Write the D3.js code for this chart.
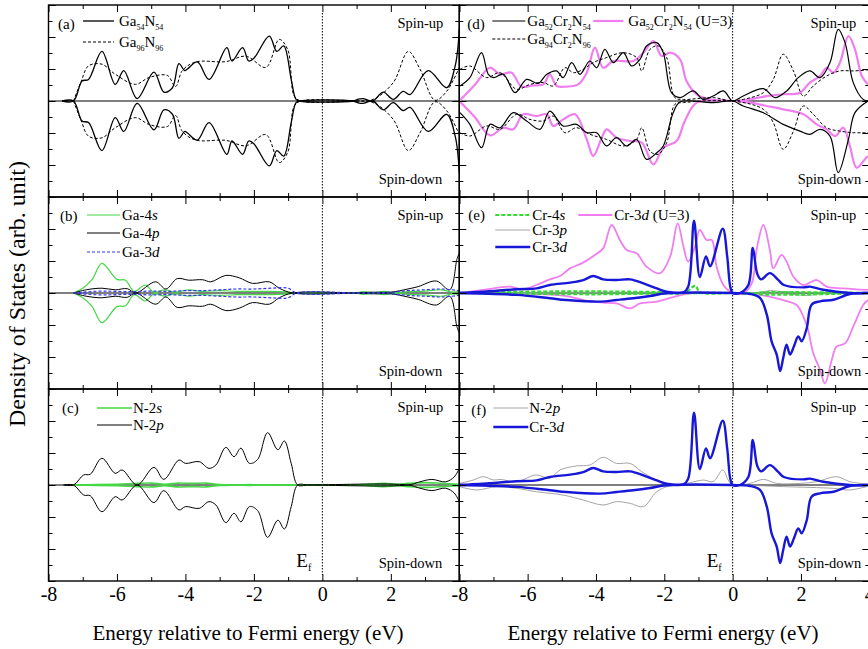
<!DOCTYPE html>
<html>
<head>
<meta charset="utf-8">
<script src="https://cdn.jsdelivr.net/npm/d3@7"></script>
<style>
  body { margin: 0; background: #fff; }
  text { font-family: "Liberation Serif", "DejaVu Serif", serif; }
</style>
</head>
<body>
<div id="chart"></div>
<script>
// DOS curves: [energy (eV), DOS (arb. unit)]
// spin-down arrays hold magnitudes (drawn below zero)

// (a) total DOS of pure GaN
const ga54n54 = [[-7.6,0],[-7.27,0],[-7.02,1.25],[-6.83,1.35],[-6.44,3.1],[-6.05,1.04],[-5.8,1.9],[-5.41,0.15],[-4.92,1.8],[-4.63,0.56],[-4.38,0.83],[-4.19,2.33],[-4.02,1.9],[-3.94,2.0],[-3.65,2.44],[-3.31,1.35],[-2.79,3.33],[-2.64,2.5],[-2.33,3.33],[-2.15,2.5],[-1.99,2.7],[-1.55,4.06],[-1.33,3.1],[-1.13,3.44],[-0.91,1.35],[-0.77,0.1],[-0.67,0],[0.9,0],[1.05,0.12],[1.19,0.15],[1.33,0.05],[1.48,0],[1.78,0.55],[2.07,0.1],[2.36,0.6],[2.56,0.4],[3.09,1.9],[3.63,0.83],[3.88,2.2],[4.0,4.5]];
const ga96n96 = [[-7.27,0],[-7.05,1.2],[-6.83,2.2],[-6.44,2.3],[-6.05,1.67],[-5.46,1.04],[-5.07,1.46],[-4.53,1.6],[-4.29,0.9],[-4.09,1.9],[-3.7,2.44],[-2.82,2.46],[-2.23,2.8],[-1.65,2.1],[-1.26,3.85],[-1.01,3.2],[-0.82,0.3],[-0.62,0],[0.9,0],[1.48,0.1],[2.07,1.15],[2.51,3.1],[2.85,2.0],[3.29,0.05],[3.63,0.6],[4.0,2.1]];

// (b) Ga partial DOS
const ga4s = [[-7.27,0],[-7.0,0.3],[-6.73,0.83],[-6.44,1.85],[-6.0,0.85],[-5.75,0.8],[-5.5,0.1],[-5.17,0.5],[-4.92,0.05],[-4.6,0.2],[-4.3,0.05],[-3.9,0.2],[-3.5,0.1],[-3.0,0.15],[-2.5,0.1],[-2.0,0.1],[-1.5,0.1],[-1.0,0.05],[-0.7,0],[0.9,0],[1.2,0.08],[1.5,0.02],[1.8,0.1],[2.1,0.02],[2.5,0.08],[3.0,0.12],[3.5,0.2],[3.8,0.05],[4.0,0.1]];
const ga4p = [[-7.27,0],[-6.9,0.2],[-6.44,0.3],[-6.05,0.2],[-5.7,0.27],[-5.45,0],[-4.87,0.7],[-4.57,0.25],[-4.24,0.9],[-3.9,0.8],[-3.5,0.83],[-3.26,0.7],[-2.82,1.1],[-2.43,0.95],[-2.04,0.6],[-1.55,0.7],[-1.26,0.3],[-0.87,0],[0.9,0],[1.5,0.05],[2.0,0.05],[2.5,0.25],[2.8,0.4],[3.33,0.75],[3.72,0.2],[3.93,2.1],[4.0,2.5]];
const ga3d = [[-7.27,0],[-6.5,0.12],[-6.0,0.1],[-5.5,0.08],[-5.0,0.12],[-4.5,0.1],[-4.0,0.15],[-3.5,0.15],[-3.0,0.2],[-2.5,0.25],[-2.0,0.25],[-1.5,0.3],[-1.0,0.3],[-0.75,0],[1.0,0],[2.0,0.05],[2.5,0.15],[3.0,0.2],[3.5,0.25],[4.0,0.15]];

// (c) N partial DOS
const n2s = [[-7.3,0],[-6.0,0.05],[-5.4,0.1],[-5.0,0.12],[-4.6,0.05],[-4.2,0.12],[-3.8,0.1],[-3.4,0.12],[-3.0,0.03],[-2.0,0.02],[-0.7,0],[1.0,0],[1.8,0.1],[2.2,0.05],[2.5,0.1],[3.0,0.15],[3.5,0.1],[4.0,0.05]];
const n2p = [[-7.56,0],[-7.27,0],[-6.97,0.63],[-6.78,0.67],[-6.44,1.67],[-6.05,0.73],[-5.85,0.94],[-5.41,0],[-4.92,1.1],[-4.63,0.35],[-4.19,1.56],[-4.0,1.35],[-3.6,1.46],[-3.31,1.04],[-3.11,1.25],[-2.82,2.35],[-2.58,1.77],[-2.38,2.3],[-2.13,1.35],[-1.89,1.6],[-1.6,3.27],[-1.3,2.2],[-1.11,2.75],[-0.91,1.35],[-0.72,0],[-0.4,0],[2.5,0],[2.85,0.2],[3.2,0.35],[3.6,0.2],[3.85,0.5],[4.0,1.04]];

// (d) total DOS of Cr-doped GaN
const cr54Up = [[-7.98,0.94],[-7.69,1.46],[-7.35,3.02],[-7.15,1.67],[-7.0,1.46],[-6.71,1.67],[-6.37,0.52],[-6.03,1.35],[-5.69,1.1],[-5.44,1.67],[-5.15,1.88],[-4.96,1.46],[-4.71,2.4],[-4.47,1.67],[-4.18,2.5],[-3.98,2.08],[-3.74,3.23],[-3.49,2.4],[-3.2,3.02],[-2.96,2.19],[-2.71,2.6],[-2.52,3.44],[-2.22,3.65],[-2.03,3.02],[-1.79,0.52],[-1.54,0.21],[-1.15,0.63],[-0.86,0.1],[-0.57,0.31],[-0.27,0.63],[0,0],[0.31,0.31],[0.9,0.77],[1.24,0.21],[1.58,0.63],[1.92,1.46],[2.26,1.88],[2.56,1.46],[2.85,2.4],[3.09,4.48],[3.29,3.65],[3.53,1.15],[3.82,0.1],[3.96,0]];
const cr54Dn = [[-7.98,0.73],[-7.69,1.46],[-7.35,2.92],[-7.1,1.46],[-6.81,1.67],[-6.42,0.73],[-6.03,1.25],[-5.64,1.77],[-5.35,0.63],[-4.96,1.56],[-4.57,1.46],[-4.27,1.98],[-3.98,1.98],[-3.69,2.81],[-3.4,2.29],[-3.1,2.81],[-2.81,2.4],[-2.52,3.65],[-2.22,3.23],[-2.03,2.81],[-1.74,0.73],[-1.54,0.06],[-0.57,0.1],[0,0],[0.31,0.31],[0.9,0.73],[1.48,1.46],[1.97,1.88],[2.26,2.08],[2.56,1.77],[2.85,2.19],[3.09,4.48],[3.39,2.4],[3.58,0.73],[3.96,0]];
const cr96Up = [[-7.98,1.98],[-7.69,2.19],[-7.2,1.46],[-6.81,1.77],[-6.32,0.73],[-5.93,1.04],[-5.54,1.15],[-5.25,0.94],[-4.91,2.08],[-4.66,1.77],[-4.37,1.98],[-4.08,2.4],[-3.69,2.71],[-3.2,3.02],[-2.81,2.71],[-2.66,1.88],[-2.42,3.23],[-2.18,3.44],[-1.93,2.71],[-1.69,0.21],[-1.44,0.1],[-0.57,0.21],[0,0],[0.31,0.1],[0.9,0.52],[1.19,1.35],[1.48,2.92],[1.78,1.88],[2.07,0.31],[2.36,0.94],[2.75,1.56],[3.14,1.88],[3.53,1.88],[3.96,1.94]];
const cr96Dn = [[-7.98,1.98],[-7.69,2.19],[-7.2,1.56],[-6.81,1.77],[-6.32,0.83],[-5.93,1.15],[-5.54,1.25],[-5.25,0.94],[-4.91,1.98],[-4.57,1.67],[-4.18,2.08],[-3.69,2.4],[-3.2,2.81],[-2.81,2.4],[-2.66,1.67],[-2.42,3.13],[-2.18,3.33],[-1.93,2.6],[-1.69,0.21],[-1.44,0.1],[0,0],[0.9,0.52],[1.19,1.35],[1.48,3.02],[1.78,1.88],[2.07,0.31],[2.36,0.83],[2.75,1.67],[3.14,1.88],[3.53,1.98],[3.96,1.98]];
const crU3Up = [[-8.0,0],[-7.55,1.0],[-7.1,2.08],[-6.81,1.67],[-6.47,1.77],[-6.18,0.9],[-5.83,0.98],[-5.54,1.04],[-5.35,1.67],[-5.15,0.94],[-4.86,0.9],[-4.52,1.04],[-4.27,1.77],[-4.03,3.33],[-3.79,2.08],[-3.49,2.5],[-2.91,2.5],[-2.61,3.02],[-2.32,3.75],[-2.08,2.81],[-1.83,3.02],[-1.54,2.6],[-1.35,1.25],[-1.05,0.42],[-0.66,0.1],[0,0],[0.51,0.1],[1.0,0.31],[1.48,0.42],[1.97,0.52],[2.26,1.15],[2.56,1.56],[2.75,2.08],[2.95,1.77],[3.14,2.4],[3.39,4.06],[3.58,3.23],[3.78,1.56],[3.96,1.04]];
const crU3Dn = [[-8.0,0],[-7.55,1.0],[-7.1,2.15],[-6.71,1.67],[-6.42,1.77],[-6.13,0.83],[-5.74,0.94],[-5.44,0.83],[-5.25,1.56],[-4.96,1.15],[-4.61,0.83],[-4.27,2.4],[-4.08,3.44],[-3.83,2.29],[-3.69,1.77],[-3.4,2.29],[-3.0,2.5],[-2.66,2.6],[-2.32,3.96],[-2.03,2.92],[-1.64,2.5],[-1.4,1.25],[-1.05,0.1],[0,0],[0.51,0.1],[1.0,0.31],[1.48,0.52],[2.07,0.83],[2.46,1.46],[2.75,1.77],[3.0,2.19],[3.24,1.67],[3.43,2.81],[3.63,4.17],[3.87,3.65],[3.96,3.44]];

// (e) Cr partial DOS
const cr4sUp = [[-8,0],[-7,0.05],[-6,0.08],[-5,0.1],[-4,0.1],[-3,0.08],[-2,0.05],[-1.4,0.02],[-1.1,0.45],[-0.95,0.05],[0,0],[0.6,0],[1.0,0.05],[1.5,0.06],[2.0,0.05],[3.0,0.03],[4,0]];
const cr4sDn = [[-8,0],[-6,0.05],[-4,0.08],[-2,0.03],[0,0],[1,0.1],[2,0.1],[3,0.05],[4,0]];
const cr3pUp = [[-8,0],[-4,0.05],[0,0],[0.8,0.05],[1.1,0.15],[1.4,0.1],[2,0.05],[4,0]];
const cr3pDn = [[-8,0],[0,0],[1.5,0.05],[2.2,0.15],[2.6,0.05],[4,0]];
const cr3dUp = [[-8,0],[-7.3,0.08],[-6.32,0.23],[-5.74,0.29],[-5.35,0.5],[-4.76,0.65],[-4.37,0.81],[-4.08,1.06],[-3.79,0.85],[-3.4,0.81],[-3.0,0.85],[-2.61,0.6],[-2.22,0.29],[-1.93,0.08],[-1.44,0.04],[-1.3,0.4],[-1.13,4.52],[-0.96,1.0],[-0.78,2.29],[-0.66,1.67],[-0.29,4.02],[-0.16,2.3],[-0.07,0.4],[0,0],[0.21,0],[0.46,0.5],[0.59,2.82],[0.72,1.2],[0.83,0.85],[1.09,1.24],[1.34,0.8],[1.5,0.5],[2.07,0.35],[2.26,0.4],[2.65,0.2],[3.43,0],[3.96,0]];
const cr3dDn = [[-8,0],[-6.32,0.12],[-5.35,0.33],[-4.86,0.44],[-3.88,0.54],[-3.4,0.44],[-2.91,0.33],[-2.42,0.19],[-1.93,0.02],[0,0],[0.51,0.06],[0.8,0.31],[1.0,1.35],[1.14,3.02],[1.29,3.85],[1.39,4.88],[1.48,4.06],[1.58,3.23],[1.68,3.85],[1.8,3.3],[1.92,2.71],[2.02,3.02],[2.17,2.19],[2.31,0.73],[2.56,0.52],[2.95,0.42],[3.43,0.06],[3.96,0]];
const cr3dU3Up = [[-8,0],[-7.3,0.19],[-6.52,0.4],[-6.13,0.23],[-5.74,0.5],[-5.35,0.85],[-5.05,1.06],[-4.76,1.54],[-4.42,1.85],[-4.03,2.38],[-3.79,2.79],[-3.54,4.25],[-3.3,3.31],[-3.1,2.69],[-2.81,2.48],[-2.52,1.65],[-2.13,1.23],[-1.83,2.27],[-1.61,4.35],[-1.44,2.9],[-1.3,1.96],[-1.1,2.9],[-0.96,3.94],[-0.76,3.31],[-0.61,3.31],[-0.47,1.65],[-0.27,0.5],[0,0],[0.31,0],[0.56,0.6],[0.7,2.69],[0.9,4.25],[1.09,2.69],[1.19,1.54],[1.43,2.38],[1.58,1.96],[1.78,1.02],[2.07,0.5],[2.46,0.81],[2.75,0.4],[3.24,0.29],[3.96,0.19]];
const cr3dU3Dn = [[-8,0],[-4.86,0.19],[-4.37,0.44],[-3.79,0.6],[-3.4,0.65],[-3.0,0.96],[-2.71,0.65],[-2.22,0.54],[-1.64,0.19],[-1.25,0.02],[0,0],[0.51,0.06],[1.0,0.19],[1.48,0.44],[1.87,0.75],[2.07,1.48],[2.21,2.31],[2.36,3.77],[2.56,4.81],[2.7,5.65],[2.9,4.19],[3.04,3.35],[3.29,3.15],[3.53,2.1],[3.82,0.75],[3.96,0.44]];

// (f) N-2p in Cr-doped GaN
const crN2pUp = [[-8,0.1],[-7.59,0.31],[-7.3,0.52],[-7.0,0.31],[-6.81,0.35],[-6.32,0.21],[-5.74,0.63],[-5.35,0.42],[-5.05,0.94],[-4.57,1.19],[-4.18,1.25],[-3.79,1.73],[-3.4,1.35],[-3.0,1.35],[-2.66,0.83],[-2.22,0.31],[-1.83,0],[-1.35,0.1],[-0.86,0.31],[-0.57,0.21],[-0.29,0.94],[-0.13,0.31],[0,0],[0.51,0.1],[0.9,0.35],[1.29,0.1],[1.97,0.1],[2.46,0.21],[3.04,0.52],[3.43,0.21],[3.92,0.06]];
const crN2pDn = [[-8,0.1],[-7.49,0.31],[-6.91,0.1],[-6.32,0.21],[-5.74,0.42],[-4.96,0.63],[-4.37,0.94],[-3.79,1.25],[-3.4,1.04],[-3.0,1.15],[-2.61,1.35],[-2.22,0.42],[-1.83,0.06],[0,0],[1.48,0.1],[2.95,0.21],[3.43,0.31],[3.92,0.1]];

const xMajor = [-8, -6, -4, -2, 0, 2, 4];
const xMinor = [-7, -5, -3, -1, 1, 3];
const yMajor = [-6, -4, -2, 0, 2, 4, 6];
const yMinor = [-5, -3, -1, 1, 3, 5];
const xLabelsLeft = [-8, -6, -4, -2, 0, 2];
const xLabelsRight = [-8, -6, -4, -2, 0, 2, 4];

const width = 868, height = 649;
const colX = [[48.5, 459.3], [459.3, 869.3]];
const rowY = [5, 197, 389, 581];

const GREEN = "#45d845", PINK = "#f07ef0", BLUE = "#1717d8", GRAY = "#9a9a9a";

const panels = [
  { tag: "(a)", col: 0, row: 0, tagX: 9.5, tagY: 24,
    series: [
      { up: ga54n54, dn: ga54n54, color: "#000", w: 1.3 },
      { up: ga96n96, dn: ga96n96, color: "#000", w: 1, dash: "3,2" }],
    legend: [
      { x1: 34.5, x2: 65.5, y: 16, tx: 70.5, label: "Ga_54N_54", color: "#000", w: 1.3 },
      { x1: 34.5, x2: 65.5, y: 37, tx: 70.5, label: "Ga_96N_96", color: "#000", w: 1, dash: "3,2" }] },
  { tag: "(b)", col: 0, row: 1, tagX: 11.5, tagY: 24,
    series: [
      { up: ga4s, dn: ga4s, color: GREEN, w: 1.2 },
      { up: ga4p, dn: ga4p, color: "#000", w: 1 },
      { up: ga3d, dn: ga3d, color: "#3535ee", w: 1.2, dash: "3,2" }],
    legend: [
      { x1: 38.5, x2: 71.5, y: 18, tx: 73.5, label: "Ga-4*s*", color: GREEN, w: 1.2 },
      { x1: 38.5, x2: 71.5, y: 36, tx: 73.5, label: "Ga-4*p*", color: "#000", w: 1 },
      { x1: 38.5, x2: 71.5, y: 55, tx: 73.5, label: "Ga-3*d*", color: "#3535ee", w: 1.2, dash: "3,2" }] },
  { tag: "(c)", col: 0, row: 2, tagX: 13.5, tagY: 24,
    series: [
      { up: n2s, dn: n2s, color: GREEN, w: 1.6 },
      { up: n2p, dn: n2p, color: "#000", w: 1 }],
    legend: [
      { x1: 48.5, x2: 83.5, y: 19, tx: 84.5, label: "N-2*s*", color: GREEN, w: 1.6 },
      { x1: 48.5, x2: 83.5, y: 36, tx: 84.5, label: "N-2*p*", color: "#000", w: 1 }] },
  { tag: "(d)", col: 1, row: 0, tagX: 8, tagY: 24,
    series: [
      { up: crU3Up, dn: crU3Dn, color: PINK, w: 2.2 },
      { up: cr96Up, dn: cr96Dn, color: "#000", w: 1, dash: "3,2" },
      { up: cr54Up, dn: cr54Dn, color: "#000", w: 1.2 }],
    legend: [
      { x1: 33, x2: 66, y: 16, tx: 68, label: "Ga_52Cr_2N_54", color: "#000", w: 1.2 },
      { x1: 134, x2: 164, y: 16, tx: 169, label: "Ga_52Cr_2N_54 (U=3)", color: PINK, w: 2.2 },
      { x1: 33, x2: 66, y: 34, tx: 68, label: "Ga_94Cr_2N_96", color: "#000", w: 1, dash: "3,2" }] },
  { tag: "(e)", col: 1, row: 1, tagX: 9, tagY: 23,
    series: [
      { up: cr3dU3Up, dn: cr3dU3Dn, color: PINK, w: 1.8 },
      { up: cr3pUp, dn: cr3pDn, color: GRAY, w: 0.9 },
      { up: cr4sUp, dn: cr4sDn, color: "#2fdc2f", w: 2.2, dash: "4,2" },
      { up: cr3dUp, dn: cr3dDn, color: BLUE, w: 2.4 }],
    legend: [
      { x1: 36, x2: 71, y: 18, tx: 73, label: "Cr-4*s*", color: "#2fdc2f", w: 2.2, dash: "4,2" },
      { x1: 119, x2: 153, y: 18, tx: 155, label: "Cr-3*d* (U=3)", color: PINK, w: 1.8 },
      { x1: 36, x2: 71, y: 33, tx: 73, label: "Cr-3*p*", color: GRAY, w: 0.9 },
      { x1: 36, x2: 71, y: 50, tx: 73, label: "Cr-3*d*", color: BLUE, w: 2.4 }] },
  { tag: "(f)", col: 1, row: 2, tagX: 12, tagY: 26,
    series: [
      { up: crN2pUp, dn: crN2pDn, color: GRAY, w: 0.9 },
      { up: cr3dUp, dn: cr3dDn, color: BLUE, w: 2.4 }],
    legend: [
      { x1: 34, x2: 69, y: 19, tx: 70, label: "N-2*p*", color: GRAY, w: 0.9 },
      { x1: 34, x2: 69, y: 38, tx: 70, label: "Cr-3*d*", color: BLUE, w: 2.4 }] }
];

const svg = d3.select("#chart").append("svg")
  .attr("width", width).attr("height", height)
  .style("display", "block");

// "Ga_54N_54" -> subscripts, "*s*" -> italic
function richText(sel, str) {
  const parts = str.match(/_\d+|\*[^*]+\*|[^_*]+/g);
  let shifted = false;
  parts.forEach(p => {
    const t = sel.append("tspan");
    if (p[0] === "_") {
      t.text(p.slice(1)).attr("font-size", 8).attr("dy", shifted ? 0 : 3.5);
      shifted = true;
    } else {
      if (p[0] === "*") t.text(p.slice(1, -1)).attr("font-style", "italic");
      else t.text(p);
      if (shifted) { t.attr("dy", -3.5); shifted = false; }
    }
  });
}

panels.forEach((p, i) => {
  const [x0, x1] = colX[p.col];
  const y0 = rowY[p.row], y1 = rowY[p.row + 1];
  const x = d3.scaleLinear().domain([-8, 4]).range([x0, x1]);
  const y = d3.scaleLinear().domain([-6, 6]).range([y1, y0]);

  svg.append("clipPath").attr("id", "clip" + i)
    .append("rect").attr("x", x0).attr("y", y0).attr("width", x1 - x0).attr("height", y1 - y0);

  const g = svg.append("g");
  const plot = g.append("g").attr("clip-path", `url(#clip${i})`);

  // zero line and Fermi level
  plot.append("line").attr("x1", x0).attr("x2", x1).attr("y1", y(0)).attr("y2", y(0))
    .attr("stroke", "#000").attr("stroke-width", 1.1);
  plot.append("line").attr("x1", x(0)).attr("x2", x(0)).attr("y1", y0 + 8).attr("y2", y1 - 6)
    .attr("stroke", "#000").attr("stroke-width", 1).attr("stroke-dasharray", "1.5,1.5");

  const lineUp = d3.line().x(d => x(d[0])).y(d => y(d[1])).curve(d3.curveCatmullRom.alpha(0.5));
  const lineDn = d3.line().x(d => x(d[0])).y(d => y(-d[1])).curve(d3.curveCatmullRom.alpha(0.5));

  p.series.forEach(s => {
    [[s.up, lineUp], [s.dn, lineDn]].forEach(([data, gen]) => {
      plot.append("path").attr("d", gen(data))
        .attr("fill", "none").attr("stroke", s.color).attr("stroke-width", s.w)
        .attr("stroke-dasharray", s.dash || null).attr("stroke-linejoin", "round");
    });
  });

  // ticks pointing inward on all four sides
  const tickAxes = [
    [d3.axisTop(x), `translate(0,${y1})`, xMajor, 7],
    [d3.axisTop(x), `translate(0,${y1})`, xMinor, 4],
    [d3.axisBottom(x), `translate(0,${y0})`, xMajor, 7],
    [d3.axisBottom(x), `translate(0,${y0})`, xMinor, 4],
    [d3.axisRight(y), `translate(${x0},0)`, yMajor, 7],
    [d3.axisRight(y), `translate(${x0},0)`, yMinor, 4],
    [d3.axisLeft(y), `translate(${x1},0)`, yMajor, 7],
    [d3.axisLeft(y), `translate(${x1},0)`, yMinor, 4]
  ];
  tickAxes.forEach(([ax, tr, vals, size]) => {
    const a = g.append("g").attr("transform", tr)
      .call(ax.tickValues(vals).tickSize(size).tickFormat(""));
    a.select(".domain").remove();
    a.selectAll("line").attr("stroke-width", 1);
  });

  g.append("rect").attr("x", x0).attr("y", y0).attr("width", x1 - x0).attr("height", y1 - y0)
    .attr("fill", "none").attr("stroke", "#000").attr("stroke-width", 1.4);

  if (p.row === 2) {
    const lab = g.append("g").attr("transform", `translate(0,${y1})`)
      .call(d3.axisBottom(x).tickValues(p.col === 0 ? xLabelsLeft : xLabelsRight)
        .tickSize(0).tickPadding(6).tickFormat(d => String(d)));
    lab.select(".domain").remove();
    lab.attr("font-family", null);
    lab.selectAll("text").attr("font-size", 20).attr("fill", "#000");

    const ef = g.append("text").attr("x", x(0) - 26).attr("y", y1 - 14).attr("font-size", 19);
    ef.append("tspan").text("E");
    ef.append("tspan").text("f").attr("font-size", 10).attr("dy", 4);
  }

  // panel tag, spin labels
  g.append("text").attr("x", x0 + p.tagX).attr("y", y0 + p.tagY).attr("font-size", 15).text(p.tag);
  g.append("text").attr("x", x1 - (p.col === 0 ? 16 : 13)).attr("y", y0 + 23)
    .attr("text-anchor", "end").attr("font-size", 14.5).text("Spin-up");
  g.append("text").attr("x", x1 - (p.col === 0 ? 17 : 8)).attr("y", y1 - 13)
    .attr("text-anchor", "end").attr("font-size", 14.5).text("Spin-down");

  // legend
  p.legend.forEach(l => {
    g.append("line").attr("x1", x0 + l.x1).attr("x2", x0 + l.x2)
      .attr("y1", y0 + l.y).attr("y2", y0 + l.y)
      .attr("stroke", l.color).attr("stroke-width", l.w).attr("stroke-dasharray", l.dash || null);
    const t = g.append("text").attr("x", x0 + l.tx).attr("y", y0 + l.y + 5).attr("font-size", 15);
    richText(t, l.label);
  });
});

// axis titles
svg.append("text").attr("x", 248).attr("y", 640).attr("text-anchor", "middle")
  .attr("font-size", 21).text("Energy relative to Fermi energy (eV)");
svg.append("text").attr("x", 663).attr("y", 640).attr("text-anchor", "middle")
  .attr("font-size", 21).text("Energy relative to Fermi energy (eV)");
svg.append("text").attr("transform", "translate(25,294) rotate(-90)").attr("text-anchor", "middle")
  .attr("font-size", 24).text("Density of States (arb. unit)");
</script>
</body>
</html>
